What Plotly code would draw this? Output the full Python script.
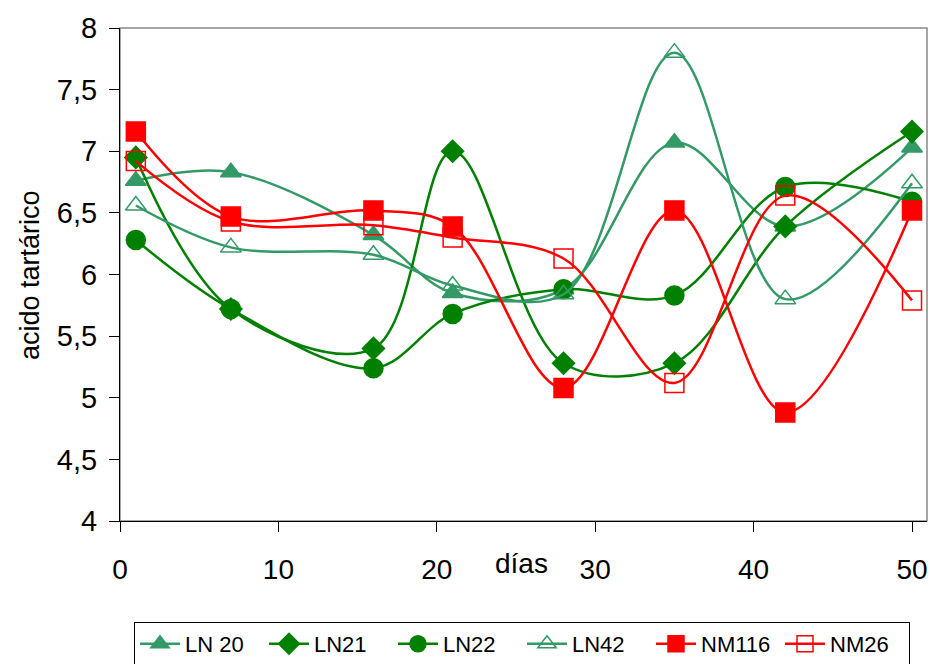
import plotly.graph_objects as go

dias = [1, 7, 16, 21, 28, 35, 42, 50]

ln20 = [6.76, 6.83, 6.32, 5.85, 5.88, 7.07, 6.39, 7.03]
ln21 = [6.95, 5.72, 5.40, 7.00, 5.28, 5.28, 6.39, 7.16]
ln22 = [6.28, 5.72, 5.24, 5.68, 5.88, 5.83, 6.71, 6.59]
ln42 = [6.56, 6.22, 6.16, 5.91, 5.84, 7.80, 5.80, 6.74]
nm116 = [7.16, 6.47, 6.52, 6.39, 5.08, 6.52, 4.88, 6.52]
nm26 = [6.92, 6.43, 6.40, 6.30, 6.13, 5.12, 6.64, 5.79]

names = ["LN 20", "LN21", "LN22", "LN42", "NM116", "NM26"]
series = [ln20, ln21, ln22, ln42, nm116, nm26]
colors = ["#339966", "#008000", "#008000", "#339966", "#FF0000", "#FF0000"]
symbols = ["triangle-up", "diamond", "circle", "triangle-up-open", "square", "square-open"]
sizes = [18, 17, 19, 18, 19, 19]

FONT = "Liberation Sans, Arial, sans-serif"

fig = go.Figure()
for n, s, c, sym, sz in zip(names, series, colors, symbols, sizes):
    fig.add_trace(go.Scatter(
        x=dias, y=s, name=n, mode="lines+markers",
        line=dict(color=c, width=2.5, shape="spline", smoothing=1.0),
        marker=dict(symbol=sym, size=sz, color=c, line=dict(color=c, width=1.5)),
    ))

# plot area in page pixels: x 120..927, y 28..521
PW = 807.0
PH = 493.0

fig.update_layout(
    width=930, height=664,
    margin=dict(l=120, r=3, t=28, b=143, autoexpand=False),
    paper_bgcolor="white", plot_bgcolor="white",
    separators=",.",
    font=dict(family=FONT, color="black"),
    showlegend=True,
    legend=dict(
        orientation="h", x=(134 - 120) / PW, y=(521 - 622) / PH,
        xanchor="left", yanchor="top",
        bordercolor="black", borderwidth=1,
        font=dict(family=FONT, size=22, color="black"),
        entrywidth=74, entrywidthmode="pixels",
        itemwidth=40,
    ),
    xaxis=dict(
        range=[0, 50 * PW / 792.0], tickvals=[0, 10, 20, 30, 40, 50],
        showgrid=False, zeroline=False,
        showline=True, linecolor="black", linewidth=1,
        ticks="outside", ticklen=10, tickcolor="black",
        tickfont=dict(family=FONT, size=28),
        ticklabelstandoff=13,
    ),
    yaxis=dict(
        range=[4, 8], dtick=0.5, tick0=4,
        showgrid=False, zeroline=False,
        showline=True, linecolor="black", linewidth=1,
        ticks="outside", ticklen=10, tickcolor="black",
        tickfont=dict(family=FONT, size=29),
        ticklabelstandoff=6,
    ),
    shapes=[dict(type="rect", xref="paper", yref="paper", x0=0, x1=1, y0=0, y1=1,
                 line=dict(color="#888888", width=1.5), layer="below")],
    annotations=[
        dict(text="acido tartárico", xref="paper", yref="paper",
             x=(30 - 120) / PW, y=(521 - 275) / PH, textangle=-90,
             showarrow=False, font=dict(family=FONT, size=27),
             xanchor="center", yanchor="middle"),
        dict(text="días", xref="paper", yref="paper",
             x=(521 - 120) / PW, y=(521 - 563) / PH,
             showarrow=False, font=dict(family=FONT, size=28),
             xanchor="center", yanchor="middle"),
    ],
)

fig.write_html(
    "out.html",
    config={"displayModeBar": False},
    post_script="document.body.style.margin='0';document.documentElement.style.overflow='hidden';",
)
